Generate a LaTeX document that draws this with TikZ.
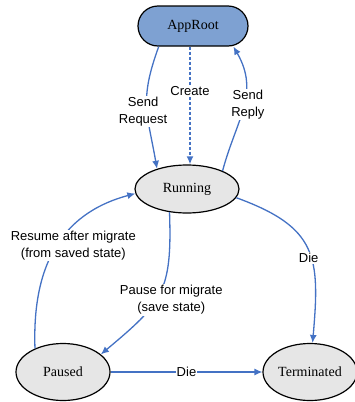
\documentclass[tikz,border=0pt]{standalone}
\usepackage{fontspec}
\setmainfont{Liberation Serif}
\setsansfont{Liberation Sans}
\usetikzlibrary{arrows.meta,shapes.geometric}
\definecolor{rootblue}{RGB}{126,161,210}
\definecolor{edgeblue}{RGB}{68,114,196}
\definecolor{stategray}{RGB}{230,230,230}
\begin{document}
\begin{tikzpicture}[x=1pt,y=-1pt]
\tikzset{state/.style={shape=ellipse,draw=black,line width=1.2pt,fill=stategray,inner sep=0pt,font=\fontsize{14}{16}\selectfont}}
\tikzset{trans/.style={draw=edgeblue,line width=1.3pt,-{Latex[length=8pt,width=7pt]}}}
\tikzset{lbl/.style={fill=white,align=center,inner sep=1pt,font=\sffamily\fontsize{13}{17}\selectfont}}
%\tikzset{lbl/.style={fill=white,font=\sffamily\small}}
\useasboundingbox (0,0) rectangle (355,402);
\node[draw=black,line width=1.2pt,fill=rootblue,rounded corners=20pt,minimum width=110pt,minimum height=40pt,font=\fontsize{14}{16}\selectfont] (approot) at (193,26) {AppRoot};
\node[state,minimum width=104pt,minimum height=48pt] (running) at (187,189) {Running};
\node[state,minimum width=94pt,minimum height=57pt] (paused) at (63,372) {Paused};
\node[state,minimum width=94pt,minimum height=57pt] (terminated) at (310,372) {Terminated};
% AppRoot <-> Running
\draw[trans] (approot.211) to[out=250,in=100,looseness=1.2] node[lbl,pos=0.55,xshift=-4pt] {Send\\Request} (running.146);
\draw[trans,line width=1.8pt,dash pattern=on 3pt off 2pt] ([xshift=-3pt]approot.south) -- node[lbl,pos=0.38] {Create} ([xshift=3pt]running.north);
\draw[trans] (running.27) to[out=75,in=-60,looseness=1.1] node[lbl,pos=0.58,xshift=3pt,yshift=-7pt] {Send\\Reply} (approot.333);
% migrate
\draw[trans] (paused.140) to[out=92,in=195,looseness=1.1] node[lbl,pos=0.5,xshift=18pt,yshift=3pt] {Resume after migrate\\(from saved state)} (running.185);
\draw[trans] (running.233) to[out=-88,in=40,looseness=1.3] node[lbl,pos=0.5,xshift=12pt,yshift=-6pt] {Pause for migrate\\(save state)} (paused.25);
% die
\draw[trans] (running.350) to[out=-20,in=85,looseness=1.35] node[lbl,pos=0.5,xshift=1pt,yshift=-9pt] {Die} (terminated.85);
\draw[trans] (paused) -- node[lbl] {Die} (terminated);
\end{tikzpicture}
\end{document}
